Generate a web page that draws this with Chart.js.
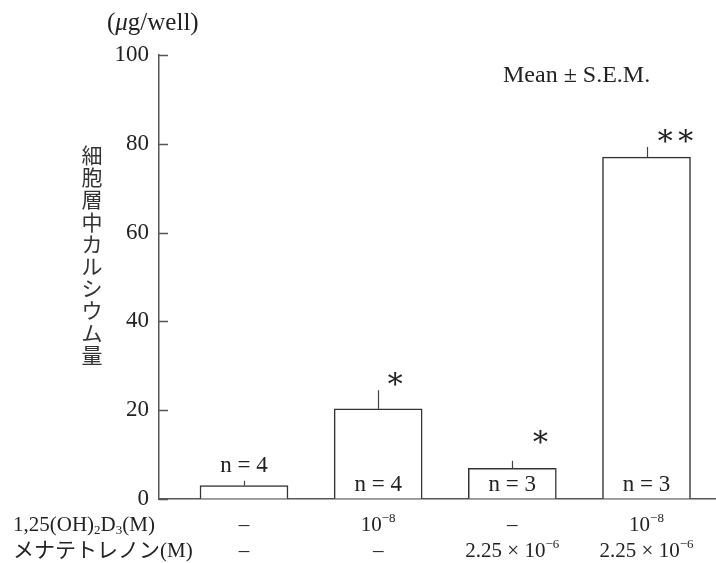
<!DOCTYPE html>
<html><head><meta charset="utf-8">
<script src="https://cdn.jsdelivr.net/npm/chart.js@4/dist/chart.umd.min.js"></script>
<style>html,body{margin:0;padding:0;background:#fff}#wrap{width:716px;height:563px}</style>
</head><body><div id="wrap"><canvas id="c" width="716" height="563"></canvas></div>
<script>
// Treatment groups and measured calcium (mean, S.E.M.)
const groups = [1, 2, 3, 4];
const calcium = [3.0, 20.3, 6.9, 77.0];
const sem = [1.1, 4.2, 1.7, 2.3];
const nLabels = ['n = 4', 'n = 4', 'n = 3', 'n = 3'];
const signif = ['', '*', '*', '**'];
const yTicks = [0, 20, 40, 60, 80, 100];
const d3Row = ['–', '10^{−8}', '–', '10^{−8}'];
const mkRow = ['–', '–', '2.25 × 10^{−6}', '2.25 × 10^{−6}'];
const rowNames = ['1,25(OH)_{2}D_{3}(M)', 'メナテトレノン(M)'];
const yTitle = '細胞層中カルシウム量';
const unitLabel = '(^{μ}g/well)';
const noteLabel = 'Mean ± S.E.M.';

const FAM = '"Liberation Serif", "Noto Sans CJK JP", serif';
const INK = '#222';
const LINE = '#555';

// text with ^{sup} / _{sub} segments; '^{μ}' in the unit label is italic mu
function drawRich(ctx, str, x, y, size, align, italicSup) {
  const parts = [];
  const re = /([\^_])\{([^}]*)\}/g;
  let last = 0, m;
  while ((m = re.exec(str))) {
    if (m.index > last) parts.push({ t: str.slice(last, m.index), k: '' });
    parts.push({ t: m[2], k: m[1] });
    last = re.lastIndex;
  }
  if (last < str.length) parts.push({ t: str.slice(last), k: '' });
  const fontFor = p => {
    if (italicSup && p.k === '^') return 'italic ' + size + 'px ' + FAM;
    return (p.k ? Math.round(size * 0.6) : size) + 'px ' + FAM;
  };
  let w = 0;
  parts.forEach(p => { ctx.font = fontFor(p); p.w = ctx.measureText(p.t).width; w += p.w; });
  let cx = align === 'center' ? x - w / 2 : align === 'right' ? x - w : x;
  ctx.textAlign = 'left';
  ctx.textBaseline = 'alphabetic';
  parts.forEach(p => {
    ctx.font = fontFor(p);
    let dy = 0;
    if (!italicSup && p.k === '^') dy = -size * 0.42;
    if (p.k === '_') dy = size * 0.15;
    ctx.fillText(p.t, cx, y + dy);
    cx += p.w;
  });
}

const annotate = {
  id: 'annotate',
  afterDatasetsDraw(chart) {
    const { ctx, chartArea, scales } = chart;
    const y = scales.y, x = scales.x;
    const meta = chart.getDatasetMeta(0);
    ctx.save();
    ctx.fillStyle = INK;

    // inward tick marks on the value axis
    ctx.strokeStyle = LINE;
    ctx.lineWidth = 1.5;
    yTicks.forEach(v => {
      const py = Math.round(y.getPixelForValue(v)) + 0.5;
      ctx.beginPath();
      ctx.moveTo(chartArea.left, py);
      ctx.lineTo(chartArea.left + 9, py);
      ctx.stroke();
    });

    // upper S.E.M. whiskers
    ctx.strokeStyle = '#444';
    ctx.lineWidth = 1.2;
    meta.data.forEach((bar, i) => {
      const cx = Math.round(bar.x) + 0.5;
      ctx.beginPath();
      ctx.moveTo(cx, y.getPixelForValue(calcium[i]));
      ctx.lineTo(cx, y.getPixelForValue(calcium[i] + sem[i]));
      ctx.stroke();
    });

    // sample sizes: inside tall bars, above short ones
    ctx.font = '23px ' + FAM;
    ctx.textAlign = 'center';
    ctx.textBaseline = 'alphabetic';
    meta.data.forEach((bar, i) => {
      const h = y.getPixelForValue(0) - y.getPixelForValue(calcium[i]);
      const ty = h > 30 ? chartArea.bottom - 8 : y.getPixelForValue(calcium[i] + sem[i]) - 9;
      ctx.fillText(nLabels[i], bar.x, ty);
    });

    // significance marks
    const starShift = [[0, 0], [17, -10], [28, -23], [29, -10]];
    ctx.font = '30px "DejaVu Serif", serif';
    ctx.textBaseline = 'middle';
    meta.data.forEach((bar, i) => {
      if (!signif[i]) return;
      const top = y.getPixelForValue(calcium[i] + sem[i]);
      ctx.fillText(signif[i].replace(/\*/g, '∗'), bar.x + starShift[i][0], top + starShift[i][1]);
    });

    // treatment table below the axis
    groups.forEach((g, i) => {
      const px = x.getPixelForValue(g);
      drawRich(ctx, d3Row[i], px, 531, 21, 'center');
      drawRich(ctx, mkRow[i], px, 557, 21, 'center');
    });
    drawRich(ctx, rowNames[0], 13, 531, 21, 'left');
    drawRich(ctx, rowNames[1], 13, 557, 21, 'left');

    // unit and note
    drawRich(ctx, unitLabel, 107, 30, 25, 'left', true);
    ctx.font = '24px ' + FAM;
    ctx.textAlign = 'left';
    ctx.textBaseline = 'alphabetic';
    ctx.fillText(noteLabel, 503, 82);

    // vertical axis title, one character per line
    ctx.font = '21px "Noto Sans CJK JP", sans-serif';
    ctx.textAlign = 'center';
    ctx.textBaseline = 'middle';
    ctx.fillStyle = '#333';
    Array.from(yTitle).forEach((ch, k) => ctx.fillText(ch, 92, 155 + k * 22.2));
    ctx.restore();
  }
};

new Chart(document.getElementById('c'), {
  type: 'bar',
  data: {
    datasets: [{
      data: groups.map((g, i) => ({ x: g, y: calcium[i] })),
      backgroundColor: '#fff',
      borderColor: '#333',
      borderWidth: 1.5,
      barThickness: 88
    }]
  },
  options: {
    responsive: false,
    animation: false,
    layout: { padding: { left: 0, right: 0, top: 55, bottom: 64 } },
    plugins: { legend: { display: false }, tooltip: { enabled: false } },
    scales: {
      x: {
        type: 'linear', min: 0.3665, max: 4.518, offset: false,
        ticks: { display: false },
        grid: { display: false, drawTicks: false, offset: false },
        border: { display: true, color: LINE, width: 1.5 },
        afterFit: s => { s.height = 0; }
      },
      y: {
        min: 0, max: 100,
        afterBuildTicks: s => { s.ticks = yTicks.map(v => ({ value: v })); },
        ticks: { padding: 10, color: INK, font: { family: FAM, size: 23 } },
        grid: { display: true, drawOnChartArea: false, drawTicks: false },
        border: { display: true, color: LINE, width: 1.5 },
        afterFit: s => { s.width = 159; }
      }
    }
  },
  plugins: [annotate]
});
</script>
</body></html>
